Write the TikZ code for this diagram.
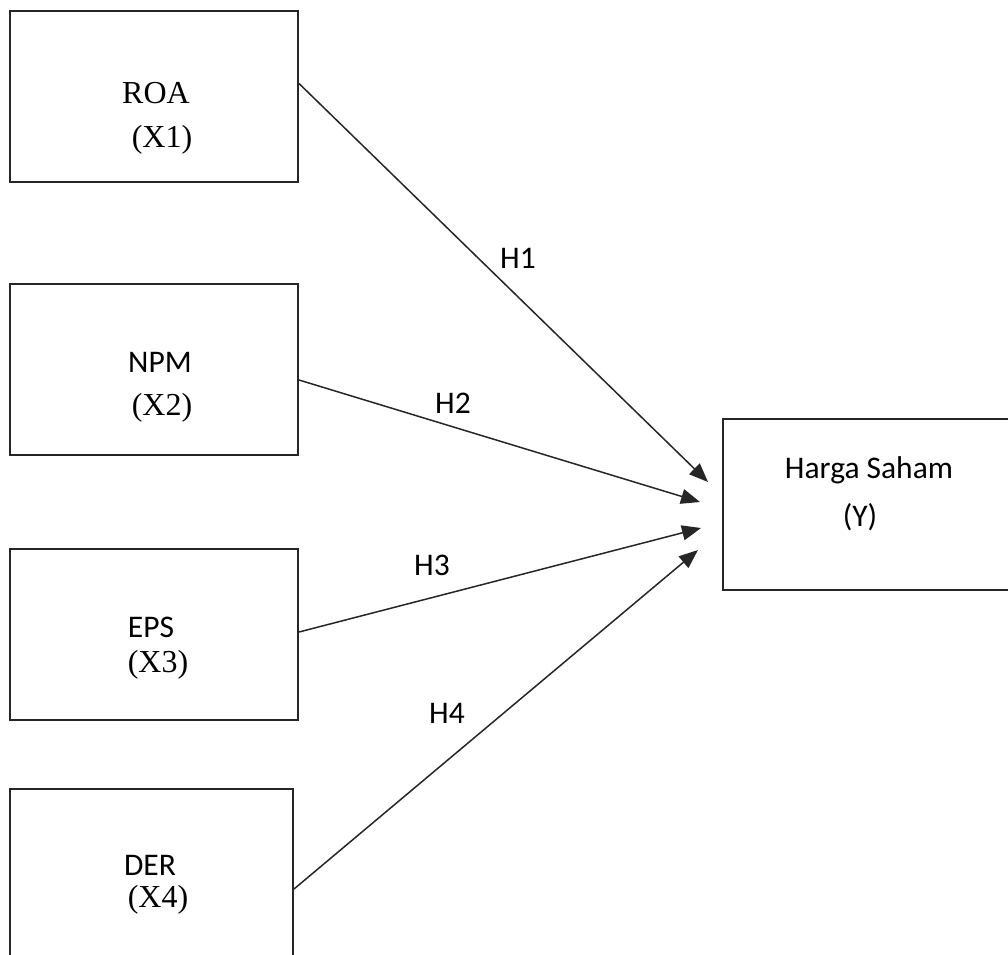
\documentclass[tikz,border=0pt]{standalone}
\usepackage{fontspec}
\setmainfont{Liberation Serif}
\newfontfamily\calib{Carlito}
\usetikzlibrary{arrows.meta,positioning}

\begin{document}
\begin{tikzpicture}[x=1pt,y=-1pt,
  var/.style={rectangle, draw=black!85, line width=2pt,
              minimum width=288pt, minimum height=171pt, inner sep=0pt},
  ser/.style={font=\fontsize{32}{34}\selectfont, inner sep=0pt},
  sans/.style={font=\calib\fontsize{31.5}{34}\selectfont, inner sep=0pt},
  hyp/.style={-{Triangle[length=19pt,width=15pt]}, line width=1.5pt, black!85},
  node distance=100pt
]
  \useasboundingbox (0,0) rectangle (1008,954);
  \clip (0,0) rectangle (1008,954);

  % independent variables
  \node[var] at (154,96.5)          (roa) {};
  \node[var, below=of roa]          (npm) {};
  \node[var, below=92pt of npm]     (eps) {};
  \node[var, below=67pt of eps, xshift=-2.5pt,
        minimum width=283pt, minimum height=177pt] (der) {};

  % dependent variable
  \node[var, minimum width=292pt] at (869,504.5) (harga) {};

  % box texts
  \node[ser]  at (156,93)  (roaA) {ROA};
  \node[ser]  at (162,140) (roaB) {(X1)};
  \node[sans] at (160,362) (npmA) {NPM};
  \node[ser]  at (162,408) (npmB) {(X2)};
  \node[sans] at (151,627) (epsA) {EPS};
  \node[ser]  at (158,665) (epsB) {(X3)};
  \node[sans] at (150,865) (derA) {DER};
  \node[ser]  at (158,900) (derB) {(X4)};
  \node[sans] at (869,470) (hargaA) {Harga Saham};
  \node[sans] at (860,517) (hargaB) {(Y)};

  % arrow ends
  \coordinate (t1) at (708,482);
  \coordinate (t2) at (700,502);
  \coordinate (t3) at (701,528);
  \coordinate (t4) at (698,550);

  % hypotheses
  \draw[hyp] ([yshift=13pt]roa.east)    -- (t1);
  \draw[hyp] ([yshift=-10.5pt]npm.east) -- (t2);
  \draw[hyp] ([yshift=2.5pt]eps.east)   -- (t3);
  \draw[hyp] ([yshift=-11.5pt]der.east) -- (t4);

  \node[sans] at (518,258) (h1) {H1};
  \node[sans] at (453,403) (h2) {H2};
  \node[sans] at (432,565) (h3) {H3};
  \node[sans] at (447,713) (h4) {H4};
\end{tikzpicture}
\end{document}
